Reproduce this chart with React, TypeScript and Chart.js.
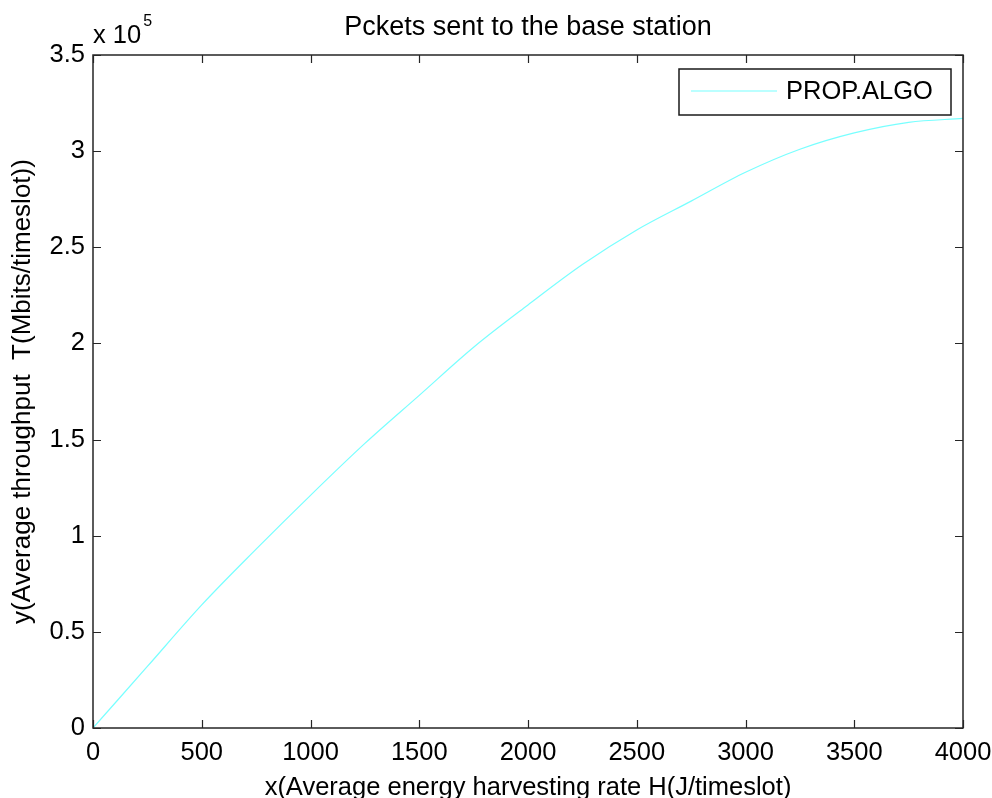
import React, { useEffect, useRef } from "react";
import { Chart, registerables } from "chart.js";

Chart.register(...registerables);

// ---- data ----
const energyRate = [0, 250, 500, 750, 1000, 1250, 1500, 1750, 2000, 2250, 2500, 2750, 3000, 3250, 3500, 3750, 4000];
const throughput = [0, 32000, 64000, 93000, 121000, 148000, 173000, 198000, 220000, 241000, 259000, 274000, 289000, 301000, 309500, 315000, 317000];

const xMin = 0;
const xMax = 4000;
const xStep = 500;
const yMin = 0;
const yMax = 350000;
const yStep = 50000;
const yScaleFactor = 100000;

const titleText = "Pckets sent to the base station";
const xLabel = "x(Average energy harvesting rate H(J/timeslot)";
const yLabel = "y(Average throughput  T(Mbits/timeslot))";
const legendLabel = "PROP.ALGO";
const multiplierBase = "x 10";
const multiplierExp = "5";

const FONT = "'Liberation Sans', Arial, Helvetica, sans-serif";
const LINE_COLOR = "rgb(120,255,255)";
const AXIS_COLOR = "#262626";

const framePlugin = {
  id: "matlabFrame",
  afterDatasetsDraw(chart: any) {
    const { ctx, chartArea } = chart;
    const { left, right, top, bottom } = chartArea;
    const xs = chart.scales.x;
    const ys = chart.scales.y;
    ctx.save();
    ctx.strokeStyle = AXIS_COLOR;
    ctx.lineWidth = 1.5;
    ctx.strokeRect(left, top, right - left, bottom - top);
    const tl = 8;
    ctx.lineWidth = 1.2;
    ctx.beginPath();
    xs.ticks.forEach((t: any) => {
      const px = Math.round(xs.getPixelForValue(t.value)) + 0.5;
      ctx.moveTo(px, bottom);
      ctx.lineTo(px, bottom - tl);
      ctx.moveTo(px, top);
      ctx.lineTo(px, top + tl);
    });
    ys.ticks.forEach((t: any) => {
      const py = Math.round(ys.getPixelForValue(t.value)) + 0.5;
      ctx.moveTo(left, py);
      ctx.lineTo(left + tl, py);
      ctx.moveTo(right, py);
      ctx.lineTo(right - tl, py);
    });
    ctx.stroke();

    // legend box
    const bw = 272;
    const bh = 46;
    const bx = right - 12 - bw;
    const by = top + 14;
    ctx.fillStyle = "#fff";
    ctx.fillRect(bx, by, bw, bh);
    ctx.strokeStyle = "#1a1a1a";
    ctx.lineWidth = 1.5;
    ctx.strokeRect(bx, by, bw, bh);
    const cy = by + bh / 2 - 1;
    ctx.strokeStyle = LINE_COLOR;
    ctx.lineWidth = 1.2;
    ctx.beginPath();
    ctx.moveTo(bx + 12, cy);
    ctx.lineTo(bx + 98, cy);
    ctx.stroke();
    ctx.fillStyle = "#000";
    ctx.font = `25.5px ${FONT}`;
    ctx.textBaseline = "middle";
    ctx.textAlign = "left";
    ctx.fillText(legendLabel, bx + 107, cy + 1);

    // exponent multiplier
    ctx.font = `25.5px ${FONT}`;
    ctx.textBaseline = "alphabetic";
    ctx.fillText(multiplierBase, left, 43);
    const w = ctx.measureText(multiplierBase).width;
    ctx.font = `16px ${FONT}`;
    ctx.fillText(multiplierExp, left + w + 2, 26);
    ctx.restore();
  },
};

export default function App() {
  const ref = useRef<HTMLCanvasElement | null>(null);

  useEffect(() => {
    if (!ref.current) return;
    Chart.defaults.font.family = FONT;
    Chart.defaults.color = "#000";
    const chart = new Chart(ref.current, {
      type: "line",
      data: {
        datasets: [
          {
            label: legendLabel,
            data: energyRate.map((x, i) => ({ x, y: throughput[i] })),
            borderColor: LINE_COLOR,
            backgroundColor: LINE_COLOR,
            borderWidth: 1.2,
            pointRadius: 0,
            cubicInterpolationMode: "monotone",
            fill: false,
          },
        ],
      },
      options: {
        responsive: false,
        animation: false,
        layout: { padding: { left: 0, right: 29, top: 0, bottom: 0 } },
        plugins: {
          legend: { display: false },
          tooltip: { enabled: false },
          title: {
            display: true,
            text: titleText,
            fullSize: false,
            color: "#000",
            font: { size: 27, weight: "normal", family: FONT },
            padding: { top: 11, bottom: 11.6 },
          },
        },
        scales: {
          x: {
            type: "linear",
            min: xMin,
            max: xMax,
            grid: { display: false, drawTicks: false },
            border: { display: false },
            ticks: {
              stepSize: xStep,
              padding: 10,
              color: "#000",
              font: { size: 25.5 },
              maxRotation: 0,
              callback: (v: any) => String(v),
            },
            title: {
              display: true,
              text: xLabel,
              color: "#000",
              font: { size: 25.5 },
              padding: { top: 0, bottom: -5 },
            },
            afterFit(scale: any) {
              scale.height = 70;
              scale.paddingLeft = 0;
              scale.paddingRight = 0;
            },
          },
          y: {
            type: "linear",
            min: yMin,
            max: yMax,
            grid: { display: false, drawTicks: false },
            border: { display: false },
            ticks: {
              stepSize: yStep,
              padding: 8,
              color: "#000",
              font: { size: 25.5 },
              callback: (v: any) => String(Number(v) / yScaleFactor),
            },
            title: {
              display: true,
              text: yLabel,
              color: "#000",
              font: { size: 26 },
              padding: { top: 7, bottom: 0 },
            },
            afterFit(scale: any) {
              scale.width = 93;
              scale.paddingTop = 0;
              scale.paddingBottom = 0;
            },
          },
        },
      },
      plugins: [framePlugin],
    } as any);
    return () => chart.destroy();
  }, []);

  return (
    <div style={{ position: "absolute", left: 0, top: 0, width: 992, height: 798, background: "#fff", overflow: "hidden" }}>
      <canvas ref={ref} width={992} height={798} style={{ display: "block" }} />
    </div>
  );
}
